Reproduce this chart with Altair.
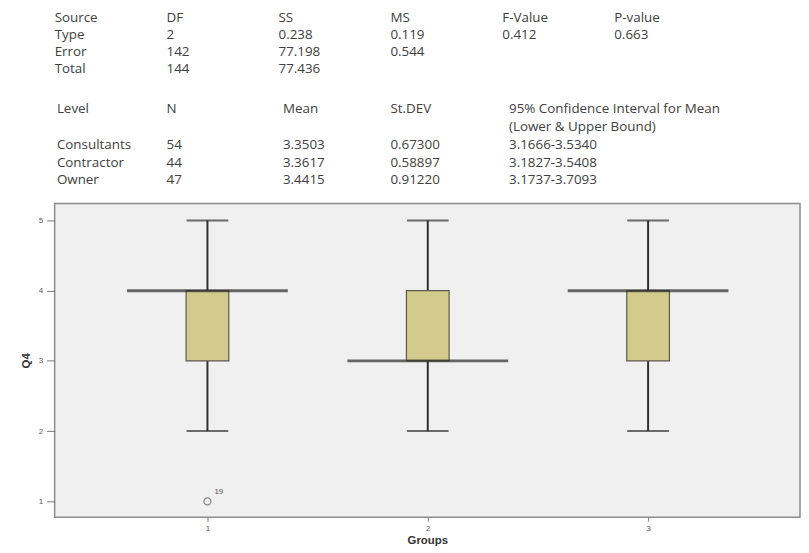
import altair as alt
import pandas as pd

# ---- data ----
groups = [1, 2, 3]
whisker_low = [2, 2, 2]
q1 = [3, 3, 3]
median = [4, 3, 4]
q3 = [4, 4, 4]
whisker_high = [5, 5, 5]

outlier_group = [1]
outlier_value = [1]
outlier_label = ["19"]

anova_header = ["Source", "DF", "SS", "MS", "F-Value", "P-value"]
anova_type = ["Type", "2", "0.238", "0.119", "0.412", "0.663"]
anova_error = ["Error", "142", "77.198", "0.544", "", ""]
anova_total = ["Total", "144", "77.436", "", "", ""]

level_header = ["Level", "N", "Mean", "St.DEV", "95% Confidence Interval for Mean"]
level_header2 = ["", "", "", "", "(Lower & Upper Bound)"]
level_consultants = ["Consultants", "54", "3.3503", "0.67300", "3.1666-3.5340"]
level_contractor = ["Contractor", "44", "3.3617", "0.58897", "3.1827-3.5408"]
level_owner = ["Owner", "47", "3.4415", "0.91220", "3.1737-3.7093"]

anova_cols = [0, 1, 2, 3, 4, 5]
level_cols = [0.02, 1, 2.04, 3, 4.06]
anova_lines = [0, 1, 2, 3]
level_lines = [5.32, 6.34, 7.38, 8.44, 9.42]

# ---- build table frame ----
rows = []
for line, cells in zip(anova_lines, [anova_header, anova_type, anova_error, anova_total]):
    for c, t in zip(anova_cols, cells):
        if t:
            rows.append({"col": c, "line": line, "text": t})
for line, cells in zip(level_lines, [level_header, level_header2, level_consultants,
                                     level_contractor, level_owner]):
    for c, t in zip(level_cols, cells):
        if t:
            rows.append({"col": c, "line": line, "text": t})
table_df = pd.DataFrame(rows)

box_df = pd.DataFrame({
    "group": groups, "lo": whisker_low, "q1": q1, "med": median,
    "q3": q3, "hi": whisker_high,
})
out_df = pd.DataFrame({"group": outlier_group, "value": outlier_value, "label": outlier_label})

FONT = "Open Sans"

table = alt.Chart(table_df).mark_text(
    align="left", baseline="middle", font=FONT, fontSize=13.5, color="#404040"
).encode(
    x=alt.X("col:Q", scale=alt.Scale(domain=[0, 6.66], nice=False, zero=False), axis=None),
    y=alt.Y("line:Q", scale=alt.Scale(domain=[-0.46, 10.23], nice=False, zero=False, reverse=True), axis=None),
    text="text:N",
).properties(width=751, height=185)

xs = alt.Scale(domain=[0.329, 3.667], nice=False, zero=False)
ys = alt.Scale(domain=[0.774, 5.24], nice=False, zero=False)

xaxis = alt.Axis(values=[1, 2, 3], format="d", title="Groups", labelFontSize=8,
                 labelColor="#555", tickColor="#777", tickSize=4, domain=False, grid=False,
                 titleFont="Liberation Sans", titleFontSize=11.5, titleFontWeight="bold",
                 titleColor="#333", titlePadding=3, labelPadding=3)
yaxis = alt.Axis(values=[1, 2, 3, 4, 5], format="d", title="Q4", labelFontSize=8,
                 labelColor="#555", tickColor="#777", tickSize=8, domain=False, grid=False,
                 titleFont="Liberation Sans", titleFontSize=11.5, titleFontWeight="bold",
                 titleColor="#333", titlePadding=7, labelPadding=4)

base = alt.Chart(box_df)

whisk = base.mark_rule(color="#303030", strokeWidth=2).encode(
    x=alt.X("group:Q", scale=xs, axis=xaxis),
    y=alt.Y("lo:Q", scale=ys, axis=yaxis),
    y2="hi:Q",
)
caps_lo = base.mark_tick(orient="horizontal", size=42, thickness=2, color="#303030").encode(
    x=alt.X("group:Q", scale=xs), y=alt.Y("lo:Q", scale=ys))
caps_hi = base.mark_tick(orient="horizontal", size=42, thickness=2, color="#303030").encode(
    x=alt.X("group:Q", scale=xs), y=alt.Y("hi:Q", scale=ys))
box = base.mark_bar(size=43, fill="#d3cb8c", stroke="#5a5a4a", strokeWidth=1.2).encode(
    x=alt.X("group:Q", scale=xs), y=alt.Y("q1:Q", scale=ys), y2="q3:Q")
med = base.mark_tick(orient="horizontal", size=162, thickness=3, color="#2a2a2a").encode(
    x=alt.X("group:Q", scale=xs), y=alt.Y("med:Q", scale=ys))

outs = alt.Chart(out_df)
opoint = outs.mark_point(shape="circle", size=50, filled=False, color="#555", strokeWidth=1.2).encode(
    x=alt.X("group:Q", scale=xs), y=alt.Y("value:Q", scale=ys))
olabel = outs.mark_text(align="left", baseline="middle", dx=7, dy=-9, fontSize=8,
                        font="Liberation Sans", color="#555").encode(
    x=alt.X("group:Q", scale=xs), y=alt.Y("value:Q", scale=ys), text="label:N")

boxchart = alt.layer(whisk, caps_lo, caps_hi, box, med, opoint, olabel).properties(
    width=751, height=316,
    view=alt.ViewBackground(fill="#f0f0f0", stroke="#8c8c8c", strokeWidth=1.5),
)

chart = alt.vconcat(table, boxchart, spacing=9).configure_view(stroke=None).properties(
    background="white",
    padding={"left": 11, "top": 0, "right": 0, "bottom": 0},
)

chart.save("out.html", embed_options={"renderer": "svg", "actions": False})
